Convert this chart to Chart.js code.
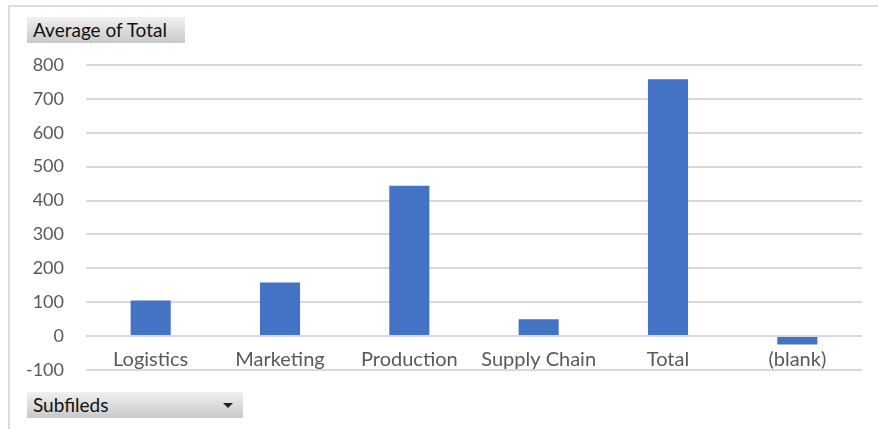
<!DOCTYPE html>
<html>
<head>
<meta charset="utf-8">
<script src="https://cdn.jsdelivr.net/npm/chart.js@4/dist/chart.umd.min.js"></script>
<style>
  html, body { margin: 0; padding: 0; background: #ffffff; }
  #wrap { position: relative; width: 878px; height: 429px; overflow: hidden; }
  #frame { position: absolute; left: 8px; top: 5px; right: -2px; bottom: -2px;
           border-top: 2px solid #dcdcdc; border-left: 2px solid #dcdcdc; }
  canvas { position: absolute; left: 0; top: 0; }
  .btn { position: absolute; height: 26px; box-sizing: border-box;
         background: linear-gradient(#f0f0f0, #c9c9c9);
         font-family: Lato, "Liberation Sans", sans-serif; font-size: 19px; color: #111;
         line-height: 26px; padding-left: 6px; }
  #btnTop { left: 27px; top: 17px; width: 158px; }
  #btnBottom { left: 27px; top: 392px; width: 216px; }
  #tri { position: absolute; left: 196px; top: 11px; width: 0; height: 0;
         border-left: 5px solid transparent; border-right: 5px solid transparent;
         border-top: 5px solid #222; }
</style>
</head>
<body>
<div id="wrap">
  <div id="frame"></div>
  <canvas id="c" width="878" height="429"></canvas>
  <div class="btn" id="btnTop">Average of Total</div>
  <div class="btn" id="btnBottom">Subfileds<div id="tri"></div></div>
</div>
<script>
const categories = ["Logistics", "Marketing", "Production", "Supply Chain", "Total", "(blank)"];
const averageOfTotal = [105, 158, 444, 50, 758, -25];
const yMin = -100;
const yMax = 800;
const yStep = 100;

const gridColor = "#d9d9d9";
const textColor = "#595959";
const fontFamily = "Lato, 'Liberation Sans', sans-serif";

new Chart(document.getElementById("c"), {
  type: "bar",
  data: {
    labels: categories,
    datasets: [{
      label: "Average of Total",
      data: averageOfTotal,
      backgroundColor: "#4472C4",
      borderWidth: 0,
      barPercentage: 0.31,
      categoryPercentage: 1.0
    }]
  },
  options: {
    responsive: false,
    animation: false,
    devicePixelRatio: 1,
    layout: { padding: { left: 0, right: 16, top: 65, bottom: 59 } },
    plugins: { legend: { display: false }, tooltip: { enabled: false } },
    scales: {
      x: {
        position: { y: 0 },
        grid: { display: false, drawTicks: false },
        border: { display: false },
        ticks: {
          color: textColor,
          font: { family: fontFamily, size: 20 },
          padding: 11,
          maxRotation: 0,
          autoSkip: false
        }
      },
      y: {
        min: yMin,
        max: yMax,
        grid: { color: gridColor, lineWidth: 2, drawTicks: false },
        border: { display: false },
        ticks: {
          stepSize: yStep,
          color: textColor,
          font: { family: fontFamily, size: 18 },
          padding: 22
        },
        afterFit: (s) => { s.width = 86; }
      }
    }
  }
});
</script>
</body>
</html>
